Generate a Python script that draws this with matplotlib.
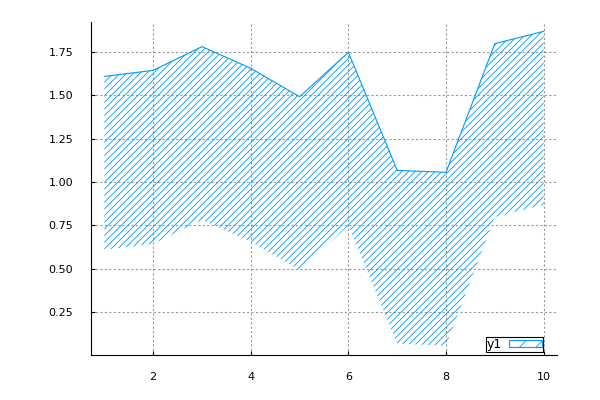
import matplotlib.pyplot as plt
from matplotlib.patches import Patch

x = [1, 2, 3, 4, 5, 6, 7, 8, 9, 10]
upper = [1.609, 1.644, 1.781, 1.656, 1.492, 1.748, 1.067, 1.056, 1.798, 1.869]
lower = [0.609, 0.644, 0.781, 0.656, 0.492, 0.748, 0.067, 0.056, 0.798, 0.869]

blue = "#009af9"
plt.rcParams["hatch.linewidth"] = 0.6

fig = plt.figure(figsize=(6, 4), dpi=100)
ax = fig.add_axes([0.152, 0.1125, 0.776, 0.8325])

ax.fill_between(x, lower, upper, facecolor="none", edgecolor=blue, linewidth=0,
                hatch="/////")
ax.plot(x, upper, color=blue, linewidth=0.8)

ax.set_xlim(0.73, 10.27)
ax.set_ylim(0.002, 1.923)
ax.set_xticks([2, 4, 6, 8, 10])
ax.set_yticks([0.25, 0.5, 0.75, 1.0, 1.25, 1.5, 1.75])
ax.set_yticklabels(["0.25", "0.50", "0.75", "1.00", "1.25", "1.50", "1.75"])
ax.grid(True, color="#999999", linestyle=(0, (2, 2)), linewidth=0.8)
ax.set_axisbelow(True)
ax.spines["top"].set_visible(False)
ax.spines["right"].set_visible(False)
ax.tick_params(direction="in", length=3, labelsize=8, colors="black")
ax.tick_params(axis="x", pad=12)
ax.tick_params(axis="y", pad=13)

handle = Patch(facecolor="none", edgecolor=blue, linewidth=0.8, hatch="//")
leg = ax.legend([handle], ["y1"], loc="lower right", bbox_to_anchor=(0.97, 0.009),
                borderaxespad=0, fontsize=9, fancybox=False, edgecolor="black",
                framealpha=1, handlelength=2.6, handleheight=0.45, borderpad=0.1,
                handletextpad=0.55, markerfirst=False)
leg.get_frame().set_linewidth(0.8)

fig.savefig("out.png", dpi=100)
